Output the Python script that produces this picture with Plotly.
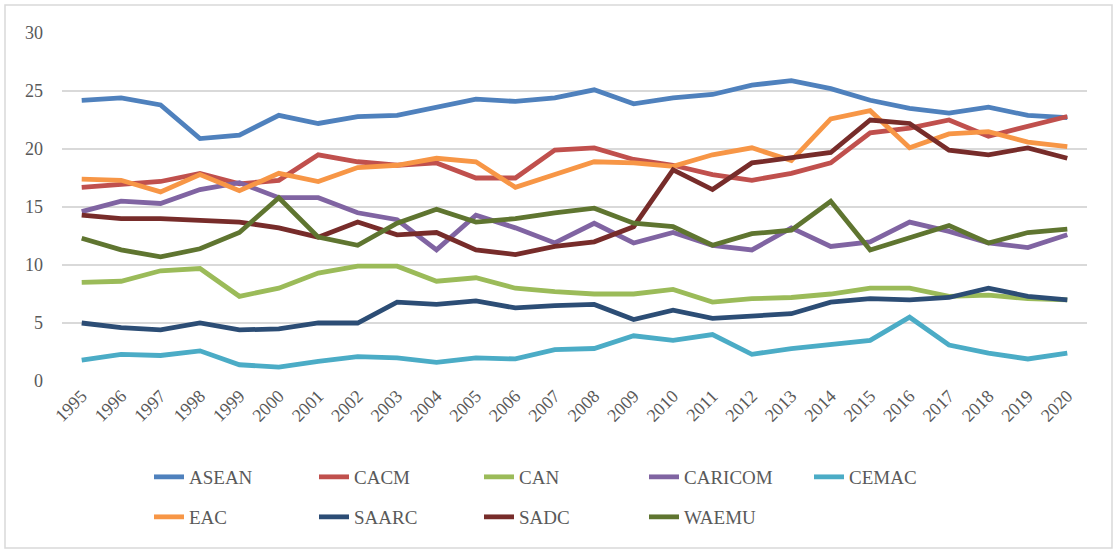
import plotly.graph_objects as go

years = [str(y) for y in range(1995, 2021)]

asean = [24.2, 24.4, 23.8, 20.9, 21.2, 22.9, 22.2, 22.8, 22.9, 23.6, 24.3, 24.1, 24.4,
         25.1, 23.9, 24.4, 24.7, 25.5, 25.9, 25.2, 24.2, 23.5, 23.1, 23.6, 22.9, 22.7]
cacm = [16.7, 16.9, 17.2, 17.9, 17.0, 17.3, 19.5, 18.9, 18.6, 18.8, 17.5, 17.5, 19.9,
        20.1, 19.1, 18.6, 17.8, 17.3, 17.9, 18.8, 21.4, 21.8, 22.5, 21.1, 22.0, 22.8]
can = [8.5, 8.6, 9.5, 9.7, 7.3, 8.0, 9.3, 9.9, 9.9, 8.6, 8.9, 8.0, 7.7,
       7.5, 7.5, 7.9, 6.8, 7.1, 7.2, 7.5, 8.0, 8.0, 7.3, 7.4, 7.1, 7.0]
caricom = [14.6, 15.5, 15.3, 16.5, 17.1, 15.8, 15.8, 14.5, 13.9, 11.3, 14.3, 13.2, 11.9,
           13.6, 11.9, 12.8, 11.7, 11.3, 13.2, 11.6, 12.0, 13.7, 12.9, 11.9, 11.5, 12.6]
cemac = [1.8, 2.3, 2.2, 2.6, 1.4, 1.2, 1.7, 2.1, 2.0, 1.6, 2.0, 1.9, 2.7,
         2.8, 3.9, 3.5, 4.0, 2.3, 2.8, 3.1, 3.5, 5.5, 3.1, 2.4, 1.9, 2.4]
eac = [17.4, 17.3, 16.3, 17.8, 16.4, 17.9, 17.2, 18.4, 18.6, 19.2, 18.9, 16.7, 17.8,
       18.9, 18.8, 18.5, 19.5, 20.1, 19.0, 22.6, 23.3, 20.1, 21.3, 21.5, 20.6, 20.2]
saarc = [5.0, 4.6, 4.4, 5.0, 4.4, 4.5, 5.0, 5.0, 6.8, 6.6, 6.9, 6.3, 6.5,
         6.6, 5.3, 6.1, 5.4, 5.6, 5.8, 6.8, 7.1, 7.0, 7.2, 8.0, 7.3, 7.0]
sadc = [14.3, 14.0, 14.0, 13.9, 13.7, 13.2, 12.4, 13.7, 12.6, 12.8, 11.3, 10.9, 11.6,
        12.0, 13.3, 18.2, 16.5, 18.8, 19.3, 19.7, 22.5, 22.2, 19.9, 19.5, 20.1, 19.2]
waemu = [12.3, 11.3, 10.7, 11.4, 12.8, 15.8, 12.4, 11.7, 13.6, 14.8, 13.7, 14.0, 14.5,
         14.9, 13.6, 13.3, 11.7, 12.7, 13.0, 15.5, 11.3, 12.3, 13.4, 11.9, 12.8, 13.1]

y_ticks = [0, 5, 10, 15, 20, 25, 30]

series = [
    ("ASEAN", asean, "#4F81BD", "legend"),
    ("CACM", cacm, "#C0504D", "legend"),
    ("CAN", can, "#9BBB59", "legend"),
    ("CARICOM", caricom, "#8064A2", "legend"),
    ("CEMAC", cemac, "#4BACC6", "legend"),
    ("EAC", eac, "#F79646", "legend2"),
    ("SAARC", saarc, "#2C4D75", "legend2"),
    ("SADC", sadc, "#772C2A", "legend2"),
    ("WAEMU", waemu, "#5F7530", "legend2"),
]

FONT = "'Liberation Serif', 'DejaVu Serif', 'Times New Roman', Times, serif"
GRAY = "#595959"

fig = go.Figure()
for name, vals, color, lg in series:
    fig.add_trace(go.Scatter(
        x=years, y=vals, mode="lines", name=name, legend=lg,
        line=dict(color=color, width=4.8),
    ))

legend_common = dict(
    orientation="h", xref="container", yref="container",
    xanchor="left", yanchor="middle",
    entrywidth=120, entrywidthmode="pixels",
    font=dict(family=FONT, size=19, color=GRAY),
    bgcolor="rgba(0,0,0,0)", itemwidth=30,
)

fig.update_layout(
    width=1116, height=552,
    margin=dict(l=62, r=29, t=33, b=171),
    paper_bgcolor="white", plot_bgcolor="white",
    font=dict(family=FONT, color=GRAY),
    showlegend=True,
    legend=dict(x=149 / 1116, y=1 - 477 / 552, **legend_common),
    legend2=dict(x=149 / 1116, y=1 - 517 / 552, **legend_common),
    xaxis=dict(
        type="category", tickangle=-45, showgrid=False, zeroline=False,
        showline=False, ticks="", range=[-0.5, len(years) - 0.5],
        tickfont=dict(family=FONT, size=18, color=GRAY),
    ),
    yaxis=dict(
        range=[0, 30], tickvals=y_ticks, showgrid=True, gridcolor="#D9D9D9",
        gridwidth=1.5, zeroline=False, showline=False, ticks="",
        tickfont=dict(family=FONT, size=18, color=GRAY), ticklabelstandoff=18,
    ),
    shapes=[dict(
        type="rect", xref="paper", yref="paper",
        x0=(5 - 62) / 1025, x1=(1112 - 62) / 1025,
        y0=(381 - 548) / 348, y1=(381 - 5) / 348,
        line=dict(color="#D9D9D9", width=1.5), fillcolor="rgba(0,0,0,0)",
        layer="below",
    )],
)

fig.write_html("out.html")
